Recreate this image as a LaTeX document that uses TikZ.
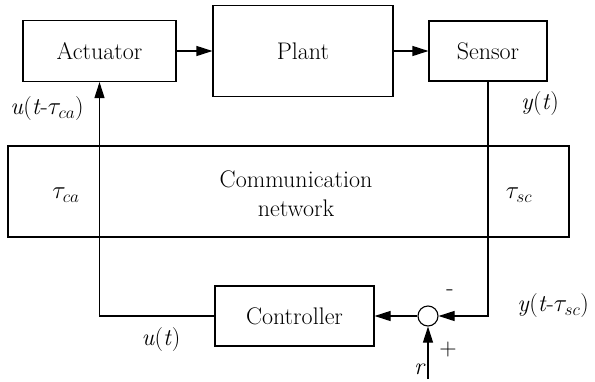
\documentclass[tikz,border=0pt]{standalone}
\usetikzlibrary{arrows.meta}

\newcommand{\ital}[1]{\textit{#1}}

\begin{document}
\begin{tikzpicture}[x=1pt,y=-1pt,
  every node/.style={font=\fontsize{24}{29}\selectfont},
  blk/.style={draw, line width=1.1pt, inner sep=0pt},
  wire/.style={line width=1.1pt},
  sig/.style={wire, -{Triangle[length=16pt,width=10pt]}},
  lbl/.style={inner sep=0pt}]
  \useasboundingbox (0,0) rectangle (595,381);

  % forward path
  \node[blk, minimum width=153pt, minimum height=61pt] (act) at (99.5,51) {Actuator};
  \node[blk, minimum width=180pt, minimum height=91pt] (plant) at (303,51) {Plant};
  \node[blk, minimum width=118pt, minimum height=60pt] (sens) at (488,51) {Sensor};

  % network band
  \node[blk, minimum width=561pt, minimum height=91pt] (net) at (288.5,191.5) {};
  \node[lbl, align=center] (nettext) at (296,194) {Communication\\network};
  \node[lbl] (tca) at (66,195) {$\tau_{ca}$};
  \node[lbl] (tsc) at (519,195) {$\tau_{sc}$};

  % controller and summing junction
  \node[blk, minimum width=159pt, minimum height=60pt] (ctrl) at (294.5,316) {Controller};
  \node[draw, circle, line width=1.1pt, minimum size=20pt, inner sep=0pt] (sum) at (428,316) {};
  \coordinate (rin) at (428,379);

  \draw[sig] (act) -- (plant);
  \draw[sig] (plant) -- (sens);
  \draw[sig] (sens.south) |- (sum.east);
  \draw[sig] (sum.west) -- (ctrl.east);
  \draw[sig] (rin) -- (sum.south);
  \draw[sig] (ctrl.west) -| (act.south);

  % signal labels
  \node[lbl] (uca) at (47,109) {\ital{u}(\ital{t}-$\tau_{ca}$)};
  \node[lbl] (yt) at (540,104) {\ital{y}(\ital{t})};
  \node[lbl, anchor=east] (ysc) at (589,306) {\ital{y}(\ital{t}-$\tau_{sc}$)};
  \node[lbl] (ut) at (161,340) {\ital{u}(\ital{t})};
  \node[lbl] (minus) at (450,293) {-};
  \node[lbl] (plus) at (448,350) {+};
  \node[lbl] (r) at (420,369) {\ital{r}};
\end{tikzpicture}
\end{document}
